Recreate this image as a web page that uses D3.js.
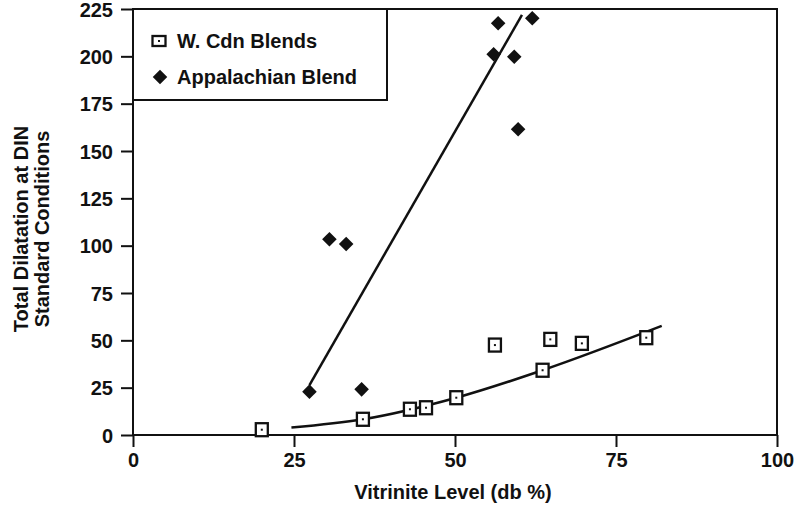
<!DOCTYPE html>
<html>
<head>
<meta charset="utf-8">
<script src="https://cdn.jsdelivr.net/npm/d3@7"></script>
<style>
  body { margin: 0; background: #fff; }
  text { font-family: "Liberation Sans", Arial, Helvetica, sans-serif; font-weight: bold; fill: #111; }
</style>
</head>
<body>
<svg id="chart"></svg>
<script>
// W. Cdn Blends (open squares)
var cdnX = [20.0, 35.7, 43.0, 45.5, 50.2, 56.2, 63.6, 64.8, 69.7, 79.7];
var cdnY = [2.8, 8.3, 13.6, 14.4, 19.7, 47.5, 34.2, 50.5, 48.4, 51.4];
// trend curve drawn through the W. Cdn points
var cdnFitX = [24.6, 35.7, 50.2, 63.6, 82.1];
var cdnFitY = [3.9, 8.3, 19.7, 34.2, 57.6];

// Appalachian Blend (filled diamonds)
var appX = [27.4, 30.5, 33.1, 35.5, 56.0, 56.7, 59.2, 59.8, 62.0];
var appY = [22.9, 103.4, 100.9, 24.1, 201.1, 217.5, 199.8, 161.5, 220.1];
var appFitX = [27.4, 60.4];
var appFitY = [26.4, 221.9];

var xTicks = [0, 25, 50, 75, 100];
var yTicks = [0, 25, 50, 75, 100, 125, 150, 175, 200, 225];
var seriesNames = ["W. Cdn Blends", "Appalachian Blend"];

var svgWidth = 796, svgHeight = 507;
var plotL = 133, plotR = 777, plotT = 9, plotB = 435;

var svg = d3.select("#chart")
    .attr("width", svgWidth)
    .attr("height", svgHeight);

var x = d3.scaleLinear().domain([0, 100]).range([plotL, plotR]);
var y = d3.scaleLinear().domain([0, 225]).range([plotB, plotT]);

var x_axis = d3.axisBottom(x).tickValues(xTicks).tickSize(12).tickSizeOuter(0).tickPadding(6);
var y_axis = d3.axisLeft(y).tickValues(yTicks).tickSize(12).tickSizeOuter(0).tickPadding(8);

var gx = svg.append("g")
    .attr("transform", "translate(0," + plotB + ")")
    .call(x_axis);
var gy = svg.append("g")
    .attr("transform", "translate(" + plotL + ",0)")
    .call(y_axis);

[gx, gy].forEach(function(g) {
    g.select(".domain").remove();
    g.selectAll("line").attr("stroke", "#111").attr("stroke-width", 2);
    g.selectAll("text")
        .style("font-size", "20px")
        .style("font-family", "'Liberation Sans', Arial, sans-serif")
        .style("font-weight", "bold")
        .attr("fill", "#111");
});
gy.selectAll("text").attr("dy", "0.36em");

// frame
svg.append("rect")
    .attr("x", plotL).attr("y", plotT)
    .attr("width", plotR - plotL).attr("height", plotB - plotT)
    .attr("fill", "none").attr("stroke", "#111").attr("stroke-width", 2);

// axis titles
svg.append("text")
    .attr("x", (plotL + plotR) / 2 - 2)
    .attr("y", 499)
    .attr("text-anchor", "middle")
    .style("font-size", "20px")
    .text("Vitrinite Level (db %)");

var yTitle = svg.append("text")
    .attr("transform", "translate(28,229) rotate(-90)")
    .attr("text-anchor", "middle")
    .style("font-size", "20px");
yTitle.append("tspan").attr("x", 0).attr("dy", 0).text("Total Dilatation at DIN");
yTitle.append("tspan").attr("x", 0).attr("dy", 21).text("Standard Conditions");

// trend lines
var line = d3.line()
    .x(function(d) { return x(d[0]); })
    .y(function(d) { return y(d[1]); });

svg.append("path")
    .datum(d3.zip(cdnFitX, cdnFitY))
    .attr("d", line.curve(d3.curveMonotoneX))
    .attr("fill", "none").attr("stroke", "#111").attr("stroke-width", 2.5);

svg.append("path")
    .datum(d3.zip(appFitX, appFitY))
    .attr("d", line.curve(d3.curveLinear))
    .attr("fill", "none").attr("stroke", "#111").attr("stroke-width", 2.5);

// markers
function square(g, cx, cy, w, h) {
    g.append("rect")
        .attr("x", cx - w / 2).attr("y", cy - h / 2)
        .attr("width", w).attr("height", h)
        .attr("fill", "#fff").attr("stroke", "#111").attr("stroke-width", 2.3);
    g.append("rect")
        .attr("x", cx - 1).attr("y", cy - 1)
        .attr("width", 2).attr("height", 2)
        .attr("fill", "#111");
}
var diamond = d3.symbol().type(d3.symbolDiamond2).size(135);

var cdnG = svg.append("g");
d3.zip(cdnX, cdnY).forEach(function(d) {
    square(cdnG, x(d[0]), y(d[1]), 12, 13);
});

svg.append("g").selectAll("path")
    .data(d3.zip(appX, appY))
    .enter()
    .append("path")
    .attr("d", diamond)
    .attr("transform", function(d) { return "translate(" + x(d[0]) + "," + y(d[1]) + ")"; })
    .attr("fill", "#111");

// legend
var lg = svg.append("g");
lg.append("rect")
    .attr("x", plotL).attr("y", plotT)
    .attr("width", 254).attr("height", 91)
    .attr("fill", "#fff").attr("stroke", "#111").attr("stroke-width", 2);
square(lg, 159, 41, 13, 10);
lg.append("path")
    .attr("d", diamond)
    .attr("transform", "translate(160,77)")
    .attr("fill", "#111");
lg.selectAll("text.lab")
    .data(seriesNames)
    .enter()
    .append("text")
    .attr("class", "lab")
    .attr("x", 177)
    .attr("y", function(d, i) { return 48 + i * 36; })
    .style("font-size", "20px")
    .text(function(d) { return d; });
</script>
</body>
</html>
